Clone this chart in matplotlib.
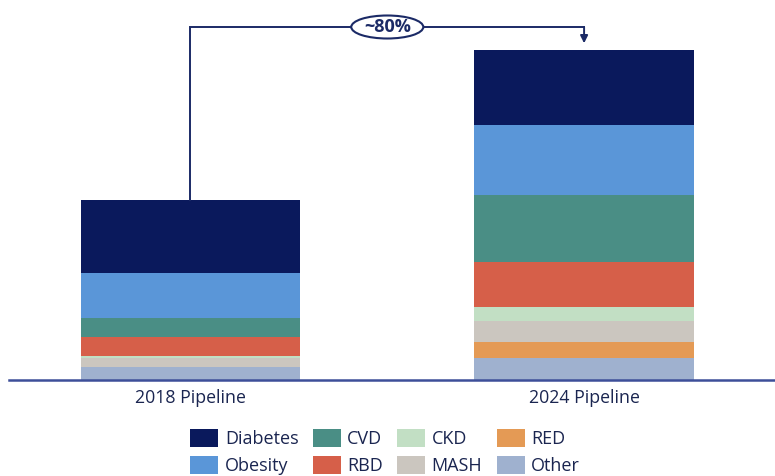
import matplotlib
matplotlib.use("Agg")
import matplotlib.pyplot as plt
from matplotlib.patches import Ellipse
import numpy as np

plt.rcParams["font.family"] = ["Open Sans", "DejaVu Sans"]

# Pipeline composition by therapeutic area (2018 total = 100)
pipelines = ["2018 Pipeline", "2024 Pipeline"]
segments = ["Other", "RED", "MASH", "CKD", "RBD", "CVD", "Obesity", "Diabetes"]
values_2018 = [6.7, 0.0, 5.0, 1.1, 10.9, 10.3, 25.3, 40.7]
values_2024 = [11.7, 8.9, 11.7, 7.8, 25.3, 37.0, 38.9, 42.0]
growth_label = "~80%"
legend_order = ["Diabetes", "Obesity", "CVD", "RBD", "CKD", "MASH", "RED", "Other"]

colors = {
    "Diabetes": "#0a195c",
    "Obesity": "#5a96d8",
    "CVD": "#4a8e85",
    "RBD": "#d65f49",
    "CKD": "#c2dfc4",
    "MASH": "#cbc6bf",
    "RED": "#e49a55",
    "Other": "#9fb1cf",
}
navy = "#1b2a66"
text_color = "#1a2550"

W, H = 775, 476
fig = plt.figure(figsize=(W / 100, H / 100), dpi=100)

base_px = 379.5
ax = fig.add_axes([9 / W, (H - base_px) / H, 1 - 9 / W, base_px / H])
ax.set_xlim(-0.461, 1.485)
ax.set_ylim(0, base_px / 1.8)
ax.axis("off")

x = np.arange(len(pipelines))
width = 0.558
bottoms = np.zeros(len(pipelines))
handles = {}
for i, seg in enumerate(segments):
    vals = np.array([values_2018[i], values_2024[i]])
    bars = ax.bar(x, vals, width, bottom=bottoms, color=colors[seg], label=seg,
                  linewidth=0)
    handles[seg] = bars
    bottoms += vals

# Baseline
ax.axhline(0, color="#3d4f99", lw=1.8, xmin=0, xmax=1, clip_on=False)

# Category labels
for xi, name in zip(x, pipelines):
    ax.text(xi, -10.5, name, ha="center", va="center", fontsize=12.8,
            color=text_color)

# Growth bracket between the two totals
top_y = (base_px - 27) / 1.8
left_top = bottoms[0]
right_top = bottoms[1]
ax.plot([x[0], x[0], x[1]], [left_top, top_y, top_y], color=navy, lw=1.4,
        solid_joinstyle="miter", clip_on=False)
ax.annotate("", xy=(x[1], right_top + 3.5), xytext=(x[1], top_y),
            arrowprops=dict(arrowstyle="-|>", color=navy, lw=1.4,
                            mutation_scale=11, shrinkA=0, shrinkB=0))
ell = Ellipse((0.5, top_y), width=72 / 393.5, height=23 / 1.8,
              facecolor="white", edgecolor=navy, lw=1.5, zorder=5)
ax.add_patch(ell)
ax.text(0.5, top_y, growth_label, ha="center", va="center", fontsize=13,
        fontweight="bold", color=navy, zorder=6)

# Legend
fig.legend([handles[s] for s in legend_order], legend_order, ncol=4,
           loc="center", bbox_to_anchor=(0.497, 0.051), frameon=False,
           prop={"size": 13}, handlelength=1.55,
           handleheight=1.15, handletextpad=0.35, columnspacing=0.8,
           labelspacing=0.45, labelcolor=text_color, borderpad=0)

fig.savefig("out.png", dpi=100)
